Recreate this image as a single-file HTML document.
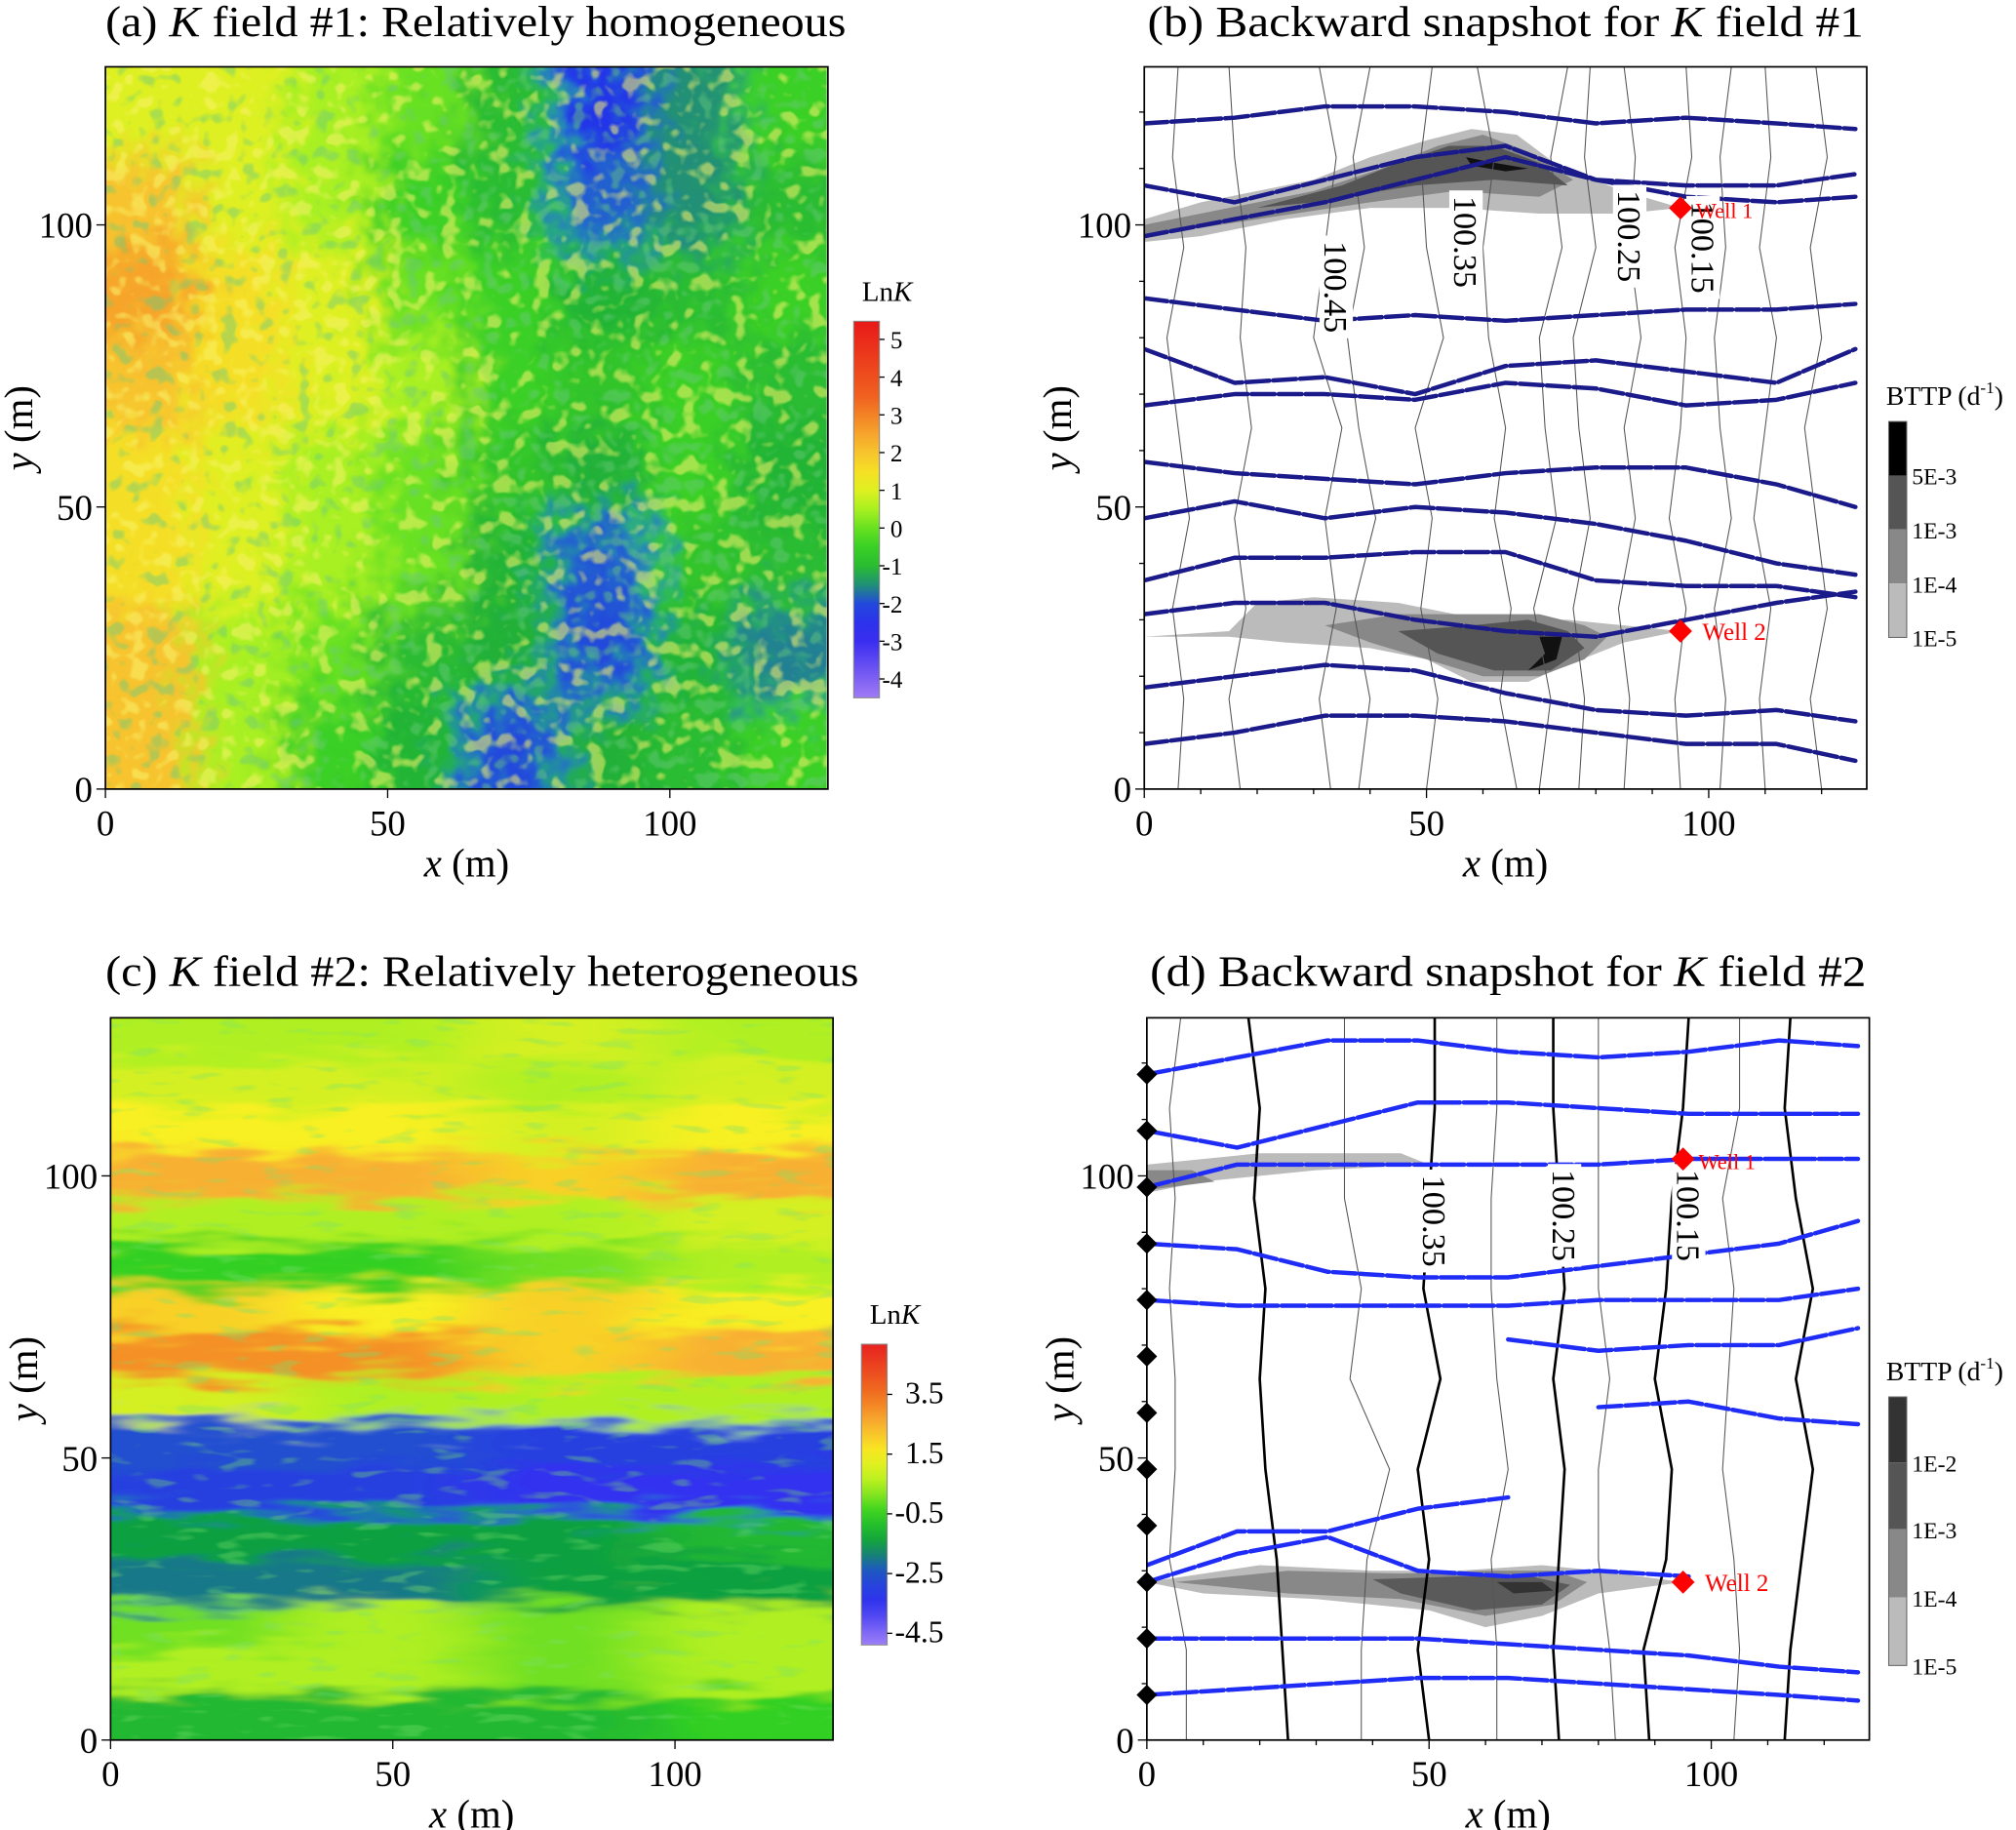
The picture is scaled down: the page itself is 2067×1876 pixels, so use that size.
<!DOCTYPE html>
<html><head><meta charset="utf-8"><style>
html,body{margin:0;padding:0;background:#fff;}
svg{display:block;font-family:"Liberation Serif",serif;}
</style></head><body>
<svg id="fig" width="2067" height="1876" viewBox="0 0 1568 1424" preserveAspectRatio="none" xmlns="http://www.w3.org/2000/svg">
<defs>
<filter id="fa" x="-10%" y="-10%" width="120%" height="120%">
<feGaussianBlur in="SourceGraphic" stdDeviation="14" result="b"/>
<feTurbulence type="fractalNoise" baseFrequency="0.06" numOctaves="2" seed="3" result="n"/>
<feDisplacementMap in="b" in2="n" scale="60" xChannelSelector="R" yChannelSelector="G"/>
</filter>
<filter id="fc" x="-10%" y="-10%" width="120%" height="120%">
<feGaussianBlur in="SourceGraphic" stdDeviation="30 5" result="b"/>
<feTurbulence type="fractalNoise" baseFrequency="0.015 0.09" numOctaves="2" seed="7" result="n"/>
<feDisplacementMap in="b" in2="n" scale="40" xChannelSelector="R" yChannelSelector="G"/>
</filter>
<filter id="spkY" x="0" y="0" width="100%" height="100%">
<feTurbulence type="fractalNoise" baseFrequency="0.07" numOctaves="2" seed="11" result="n"/>
<feColorMatrix in="n" type="matrix" values="0 0 0 0 0.95  0 0 0 0 0.9  0 0 0 0 0.15  7 0 0 0 -3.9"/>
</filter>
<filter id="spkB" x="0" y="0" width="100%" height="100%">
<feTurbulence type="fractalNoise" baseFrequency="0.07" numOctaves="2" seed="11" result="n"/>
<feColorMatrix in="n" type="matrix" values="0 0 0 0 0.15  0 0 0 0 0.6  0 0 0 0 0.2  -7 0 0 0 2.9"/>
</filter>
<filter id="spkC" x="0" y="0" width="100%" height="100%">
<feTurbulence type="fractalNoise" baseFrequency="0.03 0.12" numOctaves="2" seed="5" result="n"/>
<feColorMatrix in="n" type="matrix" values="0 0 0 0 0.2  0 0 0 0 0.75  0 0 0 0 0.15  -7 0 0 0 2.8"/>
</filter>
<clipPath id="ca"><rect x="82" y="52" width="561" height="562"/></clipPath>
<clipPath id="cc"><rect x="86" y="792" width="562" height="562"/></clipPath>
<clipPath id="cb"><rect x="890" y="52" width="564" height="562"/></clipPath>
<clipPath id="cd"><rect x="892" y="792" width="562" height="562"/></clipPath>
<linearGradient id="ga" x1="0" y1="0" x2="0" y2="1"></linearGradient>
<linearGradient id="gc" x1="0" y1="0" x2="0" y2="1"></linearGradient>
</defs>
</svg>
<script>
// ---------- data ----------
const fieldA = [
 [1,1,0.5,0,-1,-2.2,-1.5,-0.5],
 [2,1,0.5,-0.5,-1,-1.8,-1.5,-1],
 [2.5,1.5,1,0,-0.5,-1.2,-1,-0.5],
 [2,1.5,1,0.5,-0.5,-0.8,-0.5,-1],
 [1.5,1,0.5,0,-0.8,-1.3,-0.5,-1.2],
 [1.5,1,0.5,0,-1.2,-1.9,-0.8,-1],
 [2,0.5,0,-1,-1.3,-2,-1.2,-1.6],
 [2,0.5,-0.5,-1.2,-2,-1.3,-1,-0.5]
];
const fieldC = [
 [0.5,0.5,1,0.5],[1,1,0.5,1],[1.5,1.5,1,1.5],[2.5,2.5,2,2.5],
 [0.5,0.5,0.5,1],[-0.5,-0.5,0,0.5],[2,1.5,2,1.5],[3,3,2,2.5],
 [1,0.5,0.5,0.5],[-2.5,-2.5,-3,-3],[-3,-3,-3.5,-3.5],[-1.5,-1.5,-1.5,-1],
 [-2,-2,-1.5,-1.5],[0,0.5,0,0.5],[0.5,0.5,0,0.5],[-1,-1,-1,-0.5]
];
const ticksA = ["5","4","3","2","1","0","-1","-2","-3","-4"];
const ticksC = ["3.5","1.5","-0.5","-2.5","-4.5"];
const streamX = [0,16,32,48,64,80,96,112,126];
const streamsB = [
 [118,119,121,121,120,118,119,118,117],
 [107,104,108,112,114,108,107,107,109],
 [98,101,104,108,112,108,105,104,105],
 [87,85,83,84,83,84,85,85,86],
 [78,72,73,70,75,76,74,72,78],
 [68,70,70,69,72,71,68,69,72],
 [58,56,55,54,56,57,57,54,50],
 [48,51,48,50,49,47,44,40,38],
 [37,41,41,42,42,37,36,36,34],
 [31,33,33,30,28,27,30,33,35],
 [18,20,22,21,17,14,13,14,12],
 [8,10,13,13,12,10,8,8,5]
];
const streamsD = [
 [118,121,124,124,122,121,122,124,123],
 [108,105,109,113,113,112,111,111,111],
 [98,102,102,102,102,102,103,103,103],
 [88,87,83,82,82,84,86,88,92],
 [78,77,77,77,77,78,78,78,80],
 [null,null,null,null,71,69,70,70,73],
 [null,null,null,null,null,59,60,57,56],
 [31,37,37,41,43,null,null,null,null],
 [28,33,36,30,29,30,29,null,null],
 [18,18,18,18,17,16,15,13,12],
 [8,9,10,11,11,10,9,8,7]
];
const contourY = [0,16,32,48,64,80,96,112,128];
const contoursB = [
 [6,7,5,8,6,4,7,5,6],[17,15,18,16,19,17,18,16,15],[33,31,34,32,35,30,32,34,31],
 [38,40,37,41,38,36,39,37,40],[50,52,49,51,48,53,50,49,51],[66,63,65,62,64,61,60,62,59],
 [70,72,69,73,71,70,74,72,75],[77,78,76,79,77,76,80,78,79],[85,86,84,87,85,88,86,87,85],
 [95,94,96,93,95,96,94,97,96],[102,103,101,104,102,101,103,102,104],[110,109,111,108,110,112,109,111,110],
 [120,118,121,119,117,120,118,121,119]
];
const contoursDThick = [
 [25,24,23,21,20,21,19,20,18],[50,48,50,48,52,49,50,51,51],[73,72,73,74,72,74,73,72,72],
 [89,88,92,93,90,92,93,95,96],[113,114,116,118,115,118,115,113,114]
];
const contoursDThin = [
 [7,7,4,5,5,4,5,4,6],[38,38,39,43,36,38,35,35,35],[62,62,61,64,62,61,61,62,62],
 [83,82,80,80,82,80,80,80,80],[104,105,104,102,103,104,102,105,105]
];
const contourLabelsB = [["100.45",34,89],["100.35",57,97],["100.25",86,98],["100.15",99,96]];
const contourLabelsD = [["100.35",51,92],["100.25",74,93],["100.15",96,93]];
const plumeB = [
 [[[0,101],[10,104],[20,106],[30,108],[40,112],[50,115],[58,117],[66,116],[74,110],[85,106],[95,103],[85,102],[70,102],[55,103],[40,103],[25,101],[10,98],[0,97]],
  [[0,100],[15,103],[30,106],[42,110],[52,114],[60,116],[68,113],[76,108],[70,105],[55,106],[40,104],[20,101],[0,98]],
  [[20,103],[35,107],[45,111],[54,114],[62,114],[70,111],[75,107],[62,108],[48,107],[30,104]],
  [[57,112],[62,111],[68,110],[64,109.5],[58,110.5]]],
 [[[0,27],[15,28],[20,33],[30,34],[45,33],[55,31],[65,30],[75,30],[85,29],[95,28],[85,26],[75,22],[68,19],[58,19],[50,23],[40,25],[25,26],[15,27]],
  [[32,29],[45,31],[60,31],[70,31],[78,29],[82,27],[78,23],[70,20],[60,20],[50,23],[40,26]],
  [[45,28],[58,29],[68,30],[75,28],[78,25],[72,21],[62,21],[52,24]],
  [[70,27],[74,27],[73,23],[68,21],[71,24]]]
];
const plumeD = [
 [[[0,28],[20,31],[40,30],[55,30],[70,31],[80,30],[95,28],[80,26],[70,22],[60,20],[50,23],[30,25],[10,26]],
  [[5,28],[25,30],[45,29.5],[60,30],[72,30],[78,28],[72,24],[60,22],[45,25],[25,26]],
  [[40,28.5],[55,29],[68,29],[75,27.5],[70,24],[58,23],[45,26]],
  [[62,28],[70,28],[72,26.5],[65,26]]],
 [[[0,102],[20,104],[45,104],[50,102],[30,101],[10,99],[0,97]],
  [[0,101],[8,101],[12,99],[0,97.5]],[],[]]
];
const wellsY = [103,28];
const sourceY = [8,18,28,38,48,58,68,78,88,98,108,118];
const barB = ["5E-3","1E-3","1E-4","1E-5"];
const barD = ["1E-2","1E-3","1E-4","1E-5"];

// ---------- helpers ----------
const NS="http://www.w3.org/2000/svg";
const svg=document.getElementById('fig');
function el(tag,attrs,parent){const e=document.createElementNS(NS,tag);for(const k in attrs)e.setAttribute(k,attrs[k]);(parent||svg).appendChild(e);return e;}
function hex2rgb(h){return [parseInt(h.slice(1,3),16),parseInt(h.slice(3,5),16),parseInt(h.slice(5,7),16)];}
function cmap(stops,v){if(v<=stops[0][0])return stops[0][1];for(let i=1;i<stops.length;i++){if(v<=stops[i][0]){const t=(v-stops[i-1][0])/(stops[i][0]-stops[i-1][0]);const a=hex2rgb(stops[i-1][1]),b=hex2rgb(stops[i][1]);return 'rgb('+a.map((c,j)=>Math.round(c+(b[j]-c)*t)).join(',')+')';}}return stops[stops.length-1][1];}
const stopsA=[[-4.5,'#a07af5'],[-3,'#3a2ef0'],[-2.2,'#2434e8'],[-1.8,'#2060d0'],[-1.3,'#20b038'],[-0.3,'#40d820'],[0.5,'#a8f020'],[1.2,'#f4f020'],[2.2,'#f8b830'],[3.5,'#f06020'],[5.5,'#e81818']];
const stopsC=[[-4.9,'#a080f8'],[-3.5,'#3030f0'],[-2.5,'#2050d0'],[-1.5,'#10a040'],[-0.5,'#30d020'],[0.5,'#b0f020'],[1.5,'#f8f020'],[2.5,'#f8b030'],[3.5,'#f07020'],[5.2,'#e82020']];
function axes(x0,y0){const sx=v=>x0+v*4.39, sy=v=>y0-v*4.39;return {sx,sy};}
const A=axes(82,614),B=axes(890,614),C=axes(86,1354),D=axes(892,1354);

function text(str,x,y,size,anchor,parent){const t=el('text',{x:x,y:y,'font-size':size,'text-anchor':anchor||'middle',fill:'#000'},parent);t.textContent=str;return t;}

function frame(ax,x0,y0,minor,key){
  const g=el('g',{});
  
  
  el('rect',{x:x0,y:y0-562,width:ax.sx(128)-x0,height:562,fill:'none',stroke:'#000','stroke-width':1.3},g);
  const step=minor?10:50;
  for(let v=0;v<=128;v+=step){const major=v%50===0;
    el('line',{x1:ax.sx(v),x2:ax.sx(v),y1:y0,y2:y0+(major?7:4),stroke:'#000','stroke-width':1},g);
    el('line',{x1:x0,x2:x0-(major?7:4),y1:ax.sy(v),y2:ax.sy(v),stroke:'#000','stroke-width':1},g);}
  [0,50,100].forEach(v=>{
    const tx=text(String(v),ax.sx(v),y0+36,28,'middle',g);
    
    
    const ty=text(String(v),x0-10,ax.sy(v)+10,28,'end',g);
    
    
  });
  const xl=el('text',{x:(x0+ax.sx(128))/2,y:y0+68,'font-size':31,'text-anchor':'middle'},g);
  xl.innerHTML='<tspan font-style="italic">x</tspan> (m)';
  
  
  const yl=el('text',{x:0,y:0,'font-size':31,'text-anchor':'middle',transform:'translate('+(x0-57)+','+(y0-281)+') rotate(-90)'},g);
  yl.innerHTML='<tspan font-style="italic">y</tspan> (m)';
  
  
}
function title(html,x,y,w,key){const t=el('text',{x:x,y:y,'font-size':34,'text-anchor':'middle',textLength:w,lengthAdjust:'spacingAndGlyphs'});t.innerHTML=html;
  
  }

// ---------- heatmaps ----------
function heatmap(ax,field,cellW,cellH,stops,clip,filt,key,specks){
  const outer=el('g',{'clip-path':'url(#'+clip+')'});
  
  
  const g=el('g',{filter:'url(#'+filt+')'},outer);
  const rows=field.length, cols=field[0].length;
  for(let r=-1;r<=rows;r++)for(let c=-1;c<=cols;c++){
    const rr=Math.min(rows-1,Math.max(0,r)), cc=Math.min(cols-1,Math.max(0,c));
    const yTop=128-r*cellH, xL=c*cellW;
    const rc=el('rect',{x:ax.sx(xL)-0.5,y:ax.sy(yTop)-0.5,width:cellW*4.39+1,height:cellH*4.39+1,fill:cmap(stops,field[rr][cc])},g);
    
    
  }
  specks.forEach(f=>{el('rect',{x:ax.sx(0),y:ax.sy(128),width:128*4.39,height:128*4.39,filter:'url(#'+f[0]+')',opacity:f[1]},outer);});
}
heatmap(A,fieldA,16,16,stopsA,'ca','fa','k-field-1-heatmap',[['spkY',0.55],['spkB',0.45]]);
heatmap(C,fieldC,32,8,stopsC,'cc','fc','k-field-2-heatmap',[['spkC',0.35]]);

// colorbars
function colorbar(gid,stops,top,bot,vTop,vBot,x,labels,key,big){
  const grad=document.getElementById(gid);
  for(let i=0;i<=20;i++){const v=vTop+(vBot-vTop)*i/20;el('stop',{offset:(i*5)+'%','stop-color':cmap(stops,v)},grad);}
  const g=el('g',{});
  
  
  el('rect',{x:x,y:top,width:20,height:bot-top,fill:'url(#'+gid+')',stroke:'#888','stroke-width':0.8},g);
  const per=(bot-top)/(vTop-vBot);
  labels.forEach(s=>{const y=top+(vTop-Number(s))*per;
    el('line',{x1:x+20,x2:x+24,y1:y,y2:y,stroke:'#000'},g);
    const t=text(s,x+(big?64:38),y+7,big?24:19,'end',g);
    
    });
  const lt=el('text',{x:x+26,y:top-16,'font-size':22,'text-anchor':'middle'},g);lt.innerHTML='Ln<tspan font-style="italic">K</tspan>';
}
colorbar('ga',stopsA,250,543,5.48,-4.5,664,ticksA,'lnk-colorbar-1',false);
colorbar('gc',stopsC,1046,1280,5.18,-4.89,670,ticksC,'lnk-colorbar-2',true);

// ---------- snapshot panels ----------
function polyPath(ax,pts){return pts.map((p,i)=>(i?'L':'M')+ax.sx(p[0]).toFixed(1)+','+ax.sy(p[1]).toFixed(1)).join('')+'Z';}
function linePath(ax,xs,ys){let d='',pen=false;xs.forEach((x,i)=>{const y=ys[i];if(y===null||y===undefined){pen=false;return;}d+=(pen?'L':'M')+ax.sx(x).toFixed(1)+','+ax.sy(y).toFixed(1);pen=true;});return d;}
function vPath(ax,cx){return contourY.map((y,i)=>(i?'L':'M')+ax.sx(cx[i]).toFixed(1)+','+ax.sy(y).toFixed(1)).join('');}
function snapshot(ax,clip,plumes,levels,thinC,thickC,streams,color,labels,key,sources){
  const g=el('g',{'clip-path':'url(#'+clip+')'});
  
  
  plumes.forEach(pl=>pl.forEach((poly,li)=>{if(!poly.length)return;
    const p=el('path',{d:polyPath(ax,poly),fill:levels[li],stroke:'none'},g);
    
    }));
  thinC.forEach(cx=>{const p=el('path',{d:vPath(ax,cx),fill:'none',stroke:'#555','stroke-width':0.8},g);
    
    });
  thickC.forEach(cx=>{const p=el('path',{d:vPath(ax,cx),fill:'none',stroke:'#000','stroke-width':2},g);
    
    });
  streams.forEach(s=>{const p=el('path',{d:linePath(ax,streamX,s),fill:'none',stroke:color,'stroke-width':3.4,'stroke-linecap':'round','stroke-linejoin':'round','stroke-dasharray':'18 3'},g);
    
    });
  labels.forEach(l=>{const x=ax.sx(l[1]),y=ax.sy(l[2]);
    el('rect',{x:x-13,y:y-40,width:26,height:80,fill:'#fff'},g);
    const t=el('text',{x:0,y:0,'font-size':26,'text-anchor':'middle',transform:'translate('+x+','+y+') rotate(90) translate(0,9)'},g);t.textContent=l[0];
    
    });
  wellsY.forEach((wy,i)=>{const x=ax.sx(95),y=ax.sy(wy);
    const w=el('path',{d:`M${x},${y-9}L${x+9},${y}L${x},${y+9}L${x-9},${y}Z`,fill:'#f00'});
    
    
    const t=el('text',{x:x+(i?17:12),y:y+(i?7:8),'font-size':i?19:17,fill:'#f00'});t.textContent='Well '+(i+1);
    
    });
  if(sources)sources.forEach(sy=>{const x=ax.sx(0),y=ax.sy(sy);
    const d=el('path',{d:`M${x},${y-8}L${x+8},${y}L${x},${y+8}L${x-8},${y}Z`,fill:'#000'});
    
    });
}
snapshot(B,'cb',plumeB,['#bbbbbb','#888888','#555555','#111111'],contoursB,[],streamsB,'#1a1a8a',contourLabelsB,'snapshot-1',null);
snapshot(D,'cd',plumeD,['#bbbbbb','#888888','#5a5a5a','#333333'],contoursDThin,contoursDThick,streamsD,'#1f2cf5',contourLabelsD,'snapshot-2',sourceY);

function grayBar(x,bounds,colors,labels,key){
  const g=el('g',{});
  
  
  for(let i=0;i<colors.length;i++)el('rect',{x:x,y:bounds[i],width:14,height:bounds[i+1]-bounds[i],fill:colors[i]},g);
  el('rect',{x:x,y:bounds[0],width:14,height:bounds[bounds.length-1]-bounds[0],fill:'none',stroke:'#666','stroke-width':0.8},g);
  labels.forEach((s,i)=>{const t=text(s,x+18,bounds[i+1]+7,18,'start',g);
    
    });
  const t=el('text',{x:x-2,y:bounds[0]-13,'font-size':21},g);t.innerHTML='BTTP (d<tspan font-size="13" dy="-9">-1</tspan><tspan dy="9">)</tspan>';
}
grayBar(1469,[328,370,412,454,496],['#000','#555','#888','#bbb'],barB,'bttp-colorbar-1');
grayBar(1469,[1087,1138,1190,1243,1296],['#333','#555','#888','#bbb'],barD,'bttp-colorbar-2');

frame(A,82,614,false,'panel-a');
frame(B,890,614,true,'panel-b');
frame(C,86,1354,false,'panel-c');
frame(D,892,1354,true,'panel-d');

title('(a) <tspan font-style="italic">K</tspan> field #1: Relatively homogeneous',370,28,576,'panel-a-title');
title('(b) Backward snapshot for <tspan font-style="italic">K</tspan> field #1',1171,28,557,'panel-b-title');
title('(c) <tspan font-style="italic">K</tspan> field #2: Relatively heterogeneous',375,767,586,'panel-c-title');
title('(d) Backward snapshot for <tspan font-style="italic">K</tspan> field #2',1173,767,557,'panel-d-title');
</script>
</body></html>
